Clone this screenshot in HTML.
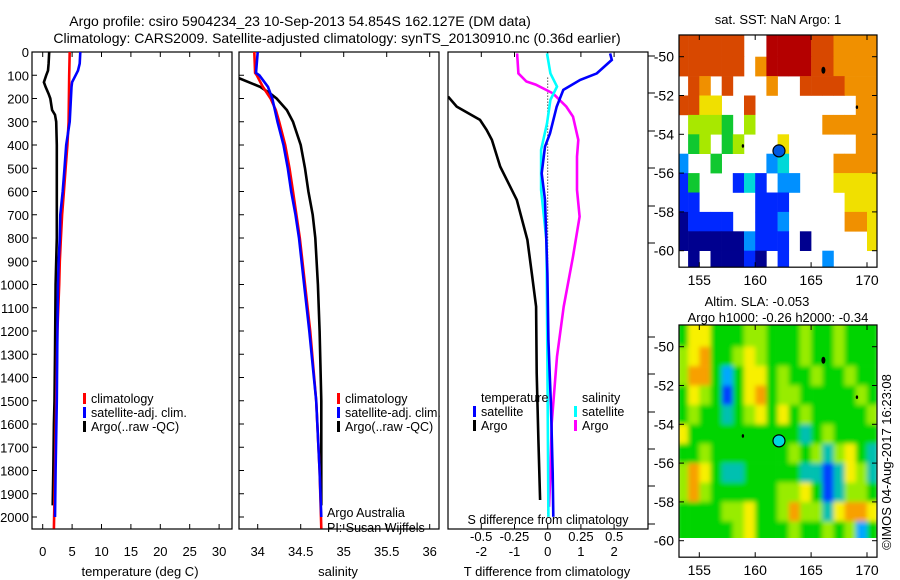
<!DOCTYPE html>
<html><head><meta charset="utf-8"><style>
body{margin:0;background:#fff}
svg{display:block;font-family:"Liberation Sans",sans-serif}
text{fill:#000}
</style></head><body>
<svg id="c" width="900" height="580" viewBox="0 0 900 580" xmlns="http://www.w3.org/2000/svg">
<defs>
<clipPath id="cp1"><rect x="32" y="52" width="200" height="477"/></clipPath>
<clipPath id="cp2"><rect x="239" y="52" width="200" height="477"/></clipPath>
<clipPath id="cp3"><rect x="448" y="52" width="200" height="477"/></clipPath>
<clipPath id="cpm1"><rect x="679" y="35" width="198" height="232"/></clipPath>
<clipPath id="cpm2"><rect x="679" y="325" width="198" height="213"/></clipPath>
<filter id="blur" x="-5%" y="-5%" width="110%" height="110%"><feGaussianBlur stdDeviation="2.5"/></filter>
</defs>
<text x="300" y="26" font-size="14" text-anchor="middle">Argo profile: csiro 5904234_23 10-Sep-2013 54.854S 162.127E (DM data)</text>
<text x="337" y="43" font-size="14" text-anchor="middle">Climatology: CARS2009. Satellite-adjusted climatology: synTS_20130910.nc (0.36d earlier)</text>
<g id="g"></g>
</svg>
<script>
// ---- Data ----
const depthArgoT=[0,50,80,100,130,150,180,200,250,270,300,400,600,800,1000,1300,1500,1600,1800,1950];
const argoT=[1.1,1.0,0.9,0.6,0.2,0.5,1.0,1.3,1.6,2.1,2.3,2.4,2.4,2.4,2.2,2.1,2.0,1.9,1.8,1.7];
const depthClimT=[0,100,300,400,500,600,700,800,900,1000,1200,1500,1800,2050];
const climT=[4.6,4.5,4.4,4.2,3.9,3.6,3.3,3.1,2.9,2.8,2.5,2.3,2.1,1.9];
const depthSatT=[0,50,80,100,130,150,200,300,400,500,600,700,800,900,1000,1200,1500,1800,2000];
const satT=[6.4,6.3,6.0,5.6,5.0,4.9,4.8,4.6,4.0,3.7,3.4,3.0,2.9,2.7,2.6,2.5,2.4,2.2,2.1];
const depthArgoS=[100,150,180,200,250,300,400,500,600,700,800,1000,1200,1500,1950];
const argoS=[33.7,34.03,34.15,34.22,34.34,34.41,34.5,34.55,34.59,34.64,34.67,34.70,34.72,34.74,34.74];
const depthClimS=[0,90,100,150,200,250,300,400,500,600,700,800,1000,1200,1500,1800,2050];
const climS=[33.96,33.97,33.99,34.06,34.15,34.21,34.25,34.32,34.37,34.41,34.45,34.49,34.55,34.61,34.68,34.72,34.74];
const depthSatS=[0,90,100,150,200,250,300,400,500,600,700,800,1000,1200,1500,1800,2000];
const satS=[34.0,33.98,34.02,34.12,34.17,34.2,34.23,34.3,34.35,34.39,34.44,34.48,34.54,34.6,34.68,34.72,34.74];
const depthArgoTd=[192,235,292,335,378,493,636,808,952,1095,1382,1669,1927];
const argoTd=[-3,-2.74,-2.04,-1.84,-1.68,-1.43,-0.93,-0.61,-0.48,-0.35,-0.33,-0.28,-0.23];
const depthSatTd=[6,34,92,120,163,235,350,407,522,636,952,1239,1526,1812,1999];
const satTd=[1.88,1.93,1.48,0.98,0.47,0.27,0.07,-0.08,-0.18,-0.08,-0.01,0.02,0.10,0.15,0.17];
const depthArgoSd=[6,92,127,140,178,235,278,378,450,593,708,880,1095,1310,1597,1812,1956];
const argoSd=[-0.23,-0.22,-0.16,-0.09,0.04,0.14,0.19,0.23,0.22,0.22,0.24,0.19,0.12,0.07,0.03,0.02,0.01];
const depthSatSd=[6,92,149,206,307,421,593,808,1095,1526,1999];
const satSd=[-0.005,0.02,0.07,0.02,-0.005,-0.05,-0.05,-0.01,-0.005,0.0,0.005];
const depthTicks=[0,100,200,300,400,500,600,700,800,900,1000,1100,1200,1300,1400,1500,1600,1700,1800,1900,2000];
const tempTicks=[0,5,10,15,20,25,30];
const salTicks=[34,34.5,35,35.5,36];
const tdTicks=[-2,-1,0,1,2];
const sdTicks=[-0.5,-0.25,0,0.25,0.5];
const lonTicks=[155,160,165,170];
const latTicks=[-50,-52,-54,-56,-58,-60];
const mapLon0=153, mapLat0=-49;
// SST grid: 1-degree cells, '.'=no data, 0-9 colour index
const sstRows=[
"888888..9999887777",
"888888.79999887777",
".87.8...7..8888777",
"8866..8.........77",
".5554.5......77777",
".45.45...6......77",
"2..4....23....7777",
"14...131.22...6666",
"11.....111.....666",
"01111..112.....776",
"0000002111.0.....6",
".0.00010.1...2...."];
// SLA grid
const slaRows=[
"466444554445445444",
"567445654445445444",
"577424664544544544",
"465414674554444454",
"454434564645444445",
"644444444443454444",
"445444444454535643",
"576433444443313653",
"575444444556413554",
"444455644575536776",
"444445644454454524",
"444445644454454524"];
const argoLon=162.127, argoLat=-54.854;
const floatLon=[166.1,169.1,158.9], floatLat=[-50.7,-52.6,-54.6];

// ---- helpers ----
const NS='http://www.w3.org/2000/svg';
const G=document.getElementById('g');
function mk(tag,attrs,parent){const e=document.createElementNS(NS,tag);for(const k in attrs)e.setAttribute(k,attrs[k]);(parent||G).appendChild(e);return e;}
function txt(x,y,s,size,anchor,parent){const t=mk('text',{x:x,y:y,'font-size':size||13,'text-anchor':anchor||'middle'},parent);t.textContent=s;return t;}
const yD=d=>52+d*0.2325;
function panel(x0,x1,xs,clip,name){
  const g=mk('g',{});
  
  
  const r=mk('rect',{x:x0,y:52,width:x1-x0,height:477,fill:'none',stroke:'#000','stroke-width':1.2},g);
  
  
  return g;
}
function line(g,xs,depths,vals,color,clip,name){
  let d='';
  for(let i=0;i<vals.length;i++){d+=(i?'L':'M')+xs(vals[i]).toFixed(1)+','+yD(depths[i]).toFixed(1);}
  const p=mk('path',{d:d,fill:'none',stroke:color,'stroke-width':2.6,'clip-path':'url(#'+clip+')','stroke-linejoin':'miter'},g);
  
  
}
function yTicks(g,x0,x1,labels){
  depthTicks.forEach(d=>{const y=yD(d);
    mk('line',{x1:x0,y1:y,x2:x0+5,y2:y,stroke:'#000'},g);
    if(labels){const t=txt(x0-3,y+5,String(d),13,'end',g);
      
      }
  });
}
function xTicks(g,xs,ticks,y0,y1,labY){
  ticks.forEach(v=>{const x=xs(v);
    mk('line',{x1:x,y1:y1,x2:x,y2:y1-5,stroke:'#000'},g);
    mk('line',{x1:x,y1:y0,x2:x,y2:y0+5,stroke:'#000'},g);
    const t=txt(x,labY,String(v),13,'middle',g);
    
    
  });
}
function legend(g,x,y,color,label,name){
  const r=mk('rect',{x:x,y:y-10,width:3,height:11,fill:color},g);
  
  
  const t=txt(x+8,y,label,12.5,'start',g);
  
  
}

// ---- Panel 1: temperature ----
const xT=v=>42.7+v*5.88;
const p1=panel(32,232,xT,'cp1','temperature-panel');
yTicks(p1,32,232,true);
xTicks(p1,xT,tempTicks,52,529,556);
line(p1,xT,depthArgoT,argoT,'#000','cp1','argo-temperature-line');
line(p1,xT,depthClimT,climT,'#f00','cp1','climatology-temperature-line');
line(p1,xT,depthSatT,satT,'#00f','cp1','satellite-temperature-line');
let t=txt(140,576,'temperature (deg C)',13,'middle',p1);


legend(p1,83,403,'#f00','climatology','legend-climatology');
legend(p1,83,417,'#00f','satellite-adj. clim.','legend-satellite');
legend(p1,83,431,'#000','Argo(..raw -QC)','legend-argo');

// ---- Panel 2: salinity ----
const xS=v=>257.7+(v-34)*86;
const p2=panel(239,439,xS,'cp2','salinity-panel');
yTicks(p2,239,439,false);
xTicks(p2,xS,salTicks,52,529,556);
line(p2,xS,depthArgoS,argoS,'#000','cp2','argo-salinity-line');
line(p2,xS,depthClimS,climS,'#f00','cp2','climatology-salinity-line');
line(p2,xS,depthSatS,satS,'#00f','cp2','satellite-salinity-line');
t=txt(338,576,'salinity',13,'middle',p2);


legend(p2,337,403,'#f00','climatology','legend-climatology-2');
legend(p2,337,417,'#00f','satellite-adj. clim.','legend-satellite-2');
legend(p2,337,431,'#000','Argo(..raw -QC)','legend-argo-2');
t=txt(327,517,'Argo Australia',12.5,'start',p2);


t=txt(327,532,'PI: Susan Wijffels',12.5,'start',p2);



// ---- Panel 3: differences ----
const xTd=v=>547.7+v*33.2;
const xSd=v=>547.7+v*133;
const p3=panel(448,648,xTd,'cp3','difference-panel');
xTicks(p3,xTd,tdTicks,52,529,556);
[56,93,131,168,206,243,337,374,412,449,486,524].forEach(y=>mk('line',{x1:648,y1:y,x2:655,y2:y,stroke:'#000'},p3));
mk('line',{x1:547.7,y1:yD(110),x2:547.7,y2:yD(2000),stroke:'#000','stroke-dasharray':'1,2'},p3);
line(p3,xTd,depthArgoTd,argoTd,'#000','cp3','argo-temperature-difference-line');
line(p3,xSd,depthArgoSd,argoSd,'#f0f','cp3','argo-salinity-difference-line');
line(p3,xSd,depthSatSd,satSd,'#0ff','cp3','satellite-salinity-difference-line');
line(p3,xTd,depthSatTd,satTd,'#00f','cp3','satellite-temperature-difference-line');
sdTicks.forEach(v=>{const tt=txt(xSd(v),541,String(v),13,'middle',p3);
  
  });
t=txt(548,524,'S difference from climatology',12.5,'middle',p3);


t=txt(547,576,'T difference from climatology',13,'middle',p3);


t=txt(481,402,'temperature',12.5,'start',p3);


t=txt(582,402,'salinity',12.5,'start',p3);


legend(p3,473,416,'#00f','satellite','legend-t-satellite');
legend(p3,473,430,'#000','Argo','legend-t-argo');
legend(p3,574,416,'#0ff','satellite','legend-s-satellite');
legend(p3,574,430,'#f0f','Argo','legend-s-argo');

// ---- Maps ----
const jet=['#00008f','#0028ff','#0090ff','#00d8d8','#10c830','#a8e800','#f0e000','#f09000','#d84800','#b40000'];
const jetSla=['#00008f','#0040ff','#00a8ff','#00c0b0','#00d400','#98ec00','#f8f000','#f8a000','#e84000','#b00000'];
const mlx=v=>699.3+(v-155)*11.18;
function drawMap(rows,colors,top,bottomLat,clip,name,blur,markerFill){
  const mly=v=>top+(v+50)*-19.4;
  const g=mk('g',{});
  
  
  const cells=mk('g',{'clip-path':'url(#'+clip+')'},g);
  const inner=mk('g',blur?{filter:'url(#blur)'}:{},cells);
  rows.forEach((row,i)=>{
    for(let j=0;j<row.length;j++){
      const c=row[j]; if(c==='.') continue;
      const la=mapLat0-i, lo=mapLon0+j;
      const x=mlx(lo), y=mly(la+(i===0?1:0));
      const h=mly(la-1)-y;
      const r=mk('rect',{x:x.toFixed(1),y:y.toFixed(1),width:'11.48',height:(h+0.3).toFixed(1),fill:colors[+c]},inner);
      
      
    }
  });
  if(blur){ mk('rect',{x:679,y:mly(bottomLat),width:198,height:60,fill:'#fff'},cells); }
  const y0=mly(-48.88), y1=mly(-60.85);
  mk('rect',{x:679,y:y0,width:198,height:y1-y0,fill:'none',stroke:'#000','stroke-width':1.2},g);
  lonTicks.forEach(v=>{const x=mlx(v);
    mk('line',{x1:x,y1:y0,x2:x,y2:y0+5,stroke:'#000'},g);
    mk('line',{x1:x,y1:y1,x2:x,y2:y1-5,stroke:'#000'},g);
    const tt=txt(x,y1+18,String(v),14,'middle',g);
    
    });
  latTicks.forEach(v=>{const y=mly(v);
    mk('line',{x1:679,y1:y,x2:684,y2:y,stroke:'#000'},g);
    mk('line',{x1:877,y1:y,x2:872,y2:y,stroke:'#000'},g);
    const tt=txt(674,y+5,String(v),14,'end',g);
    
    });
  floatLon.forEach((lo,k)=>{const f=mk('ellipse',{cx:mlx(lo),cy:mly(floatLat[k]),rx:k===0?2:1.2,ry:k===0?3.5:1.8,fill:'#000'},g);
    
    });
  const m=mk('circle',{cx:mlx(argoLon),cy:mly(argoLat),r:6,fill:markerFill,stroke:'#000','stroke-width':1.2},g);
  
  
}
drawMap(sstRows,jet,56.7,-60.85,'cpm1','sst-map',false,'#0058e0');
drawMap(slaRows,jetSla,346.7,-60.1,'cpm2','sla-map',true,'#00d8e0');
t=txt(778,24,'sat. SST: NaN Argo: 1',13,'middle');


t=txt(757,306,'Altim. SLA: -0.053',13,'middle');


t=txt(778,322,'Argo h1000: -0.26 h2000: -0.34',13,'middle');


t=txt(0,0,'\u00a9IMOS 04-Aug-2017 16:23:08',13,'middle');
t.setAttribute('transform','translate(891,462) rotate(-90)');


</script>
</body></html>
